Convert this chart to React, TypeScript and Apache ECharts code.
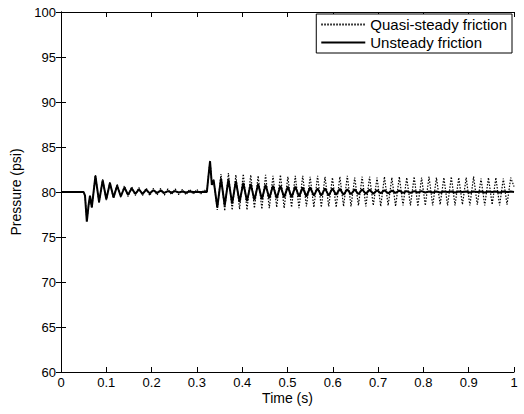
import React, { useEffect, useRef } from "react";
import * as echarts from "echarts";

// Time samples (s) shared by both series
const timeS: number[] = [
  0, 0.05, 0.053, 0.057, 0.061, 0.064, 0.068, 0.076, 0.084, 0.092, 0.1, 0.108, 0.116, 0.124,
  0.132, 0.14, 0.148, 0.156, 0.164, 0.172, 0.18, 0.188, 0.196, 0.204, 0.212, 0.22, 0.228,
  0.236, 0.244, 0.252, 0.26, 0.268, 0.276, 0.284, 0.292, 0.3, 0.308, 0.316, 0.322, 0.326,
  0.329, 0.333, 0.337,
  0.345, 0.3532, 0.3614, 0.3696, 0.3778, 0.386, 0.3942, 0.4024, 0.4106, 0.4188,
  0.427, 0.4352, 0.4434, 0.4516, 0.4598, 0.468, 0.4762, 0.4844, 0.4926, 0.5008,
  0.509, 0.5172, 0.5254, 0.5336, 0.5418, 0.55, 0.5582, 0.5664, 0.5746, 0.5828,
  0.591, 0.5992, 0.6074, 0.6156, 0.6238, 0.632, 0.6402, 0.6484, 0.6566, 0.6648,
  0.673, 0.6812, 0.6894, 0.6976, 0.7058, 0.714, 0.7222, 0.7304, 0.7386, 0.7468,
  0.755, 0.7632, 0.7714, 0.7796, 0.7878, 0.796, 0.8042, 0.8124, 0.8206, 0.8288,
  0.837, 0.8452, 0.8534, 0.8616, 0.8698, 0.878, 0.8862, 0.8944, 0.9026, 0.9108,
  0.919, 0.9272, 0.9354, 0.9436, 0.9518, 0.96, 0.9682, 0.9764, 0.9846, 0.9928, 1.0,
];

// Quasi-steady friction (psi)
const quasiP: number[] = [
  80, 80, 79.6, 76.9, 78.5, 79.5, 78.2, 81.9, 78.8, 81.4, 79.1, 81.1, 79.3, 80.9,
  79.4, 80.7, 79.5, 80.6, 79.6, 80.5, 79.6, 80.45, 79.6, 80.4, 79.65, 80.4, 79.65,
  80.35, 79.7, 80.35, 79.7, 80.3, 79.7, 80.3, 79.75, 80.3, 79.75, 80.25, 80, 82.1,
  83.5, 80.9, 81.4,
  78.0, 82.0, 77.9, 82.1, 78.0, 81.9, 78.1, 82.0, 78.0, 81.9,
  78.2, 81.8, 78.1, 81.9, 78.2, 81.8, 78.3, 81.9, 78.2, 81.7,
  78.3, 81.8, 78.2, 81.8, 78.4, 81.7, 78.3, 81.8, 78.3, 81.7,
  78.4, 81.6, 78.3, 81.7, 78.4, 81.8, 78.4, 81.6, 78.5, 81.7,
  78.4, 81.7, 78.5, 81.6, 78.4, 81.7, 78.5, 81.6, 78.4, 81.7,
  78.5, 81.6, 78.5, 81.7, 78.4, 81.6, 78.5, 81.7, 78.5, 81.6,
  78.6, 81.6, 78.5, 81.7, 78.5, 81.6, 78.6, 81.6, 78.5, 81.7,
  78.6, 81.5, 78.5, 81.6, 78.6, 81.6, 78.5, 81.5, 78.6, 81.6, 80.6,
];

// Unsteady friction (psi)
const unsteadyP: number[] = [
  80, 80, 79.6, 76.7, 78.6, 79.6, 78.3, 81.8, 78.9, 81.3, 79.2, 81.0, 79.4, 80.7,
  79.5, 80.5, 79.7, 80.4, 79.8, 80.3, 79.8, 80.25, 79.85, 80.2, 79.9, 80.15, 79.9,
  80.1, 79.95, 80.1, 79.95, 80.05, 79.95, 80.05, 80, 80, 80, 80, 80, 82.0, 83.4,
  80.8, 81.3,
  78.3, 81.5, 78.5, 81.4, 78.7, 81.2, 78.9, 81.0, 79.0, 80.9,
  79.1, 80.9, 79.2, 80.8, 79.3, 80.7, 79.3, 80.7, 79.4, 80.6,
  79.4, 80.6, 79.5, 80.5, 79.5, 80.5, 79.6, 80.4, 79.6, 80.4,
  79.6, 80.4, 79.7, 80.35, 79.7, 80.3, 79.75, 80.3, 79.75, 80.3,
  79.8, 80.25, 79.8, 80.2, 79.85, 80.2, 79.85, 80.15, 79.9, 80.15,
  79.9, 80.1, 79.9, 80.1, 79.95, 80.1, 79.95, 80.05, 79.95, 80.05,
  79.95, 80.05, 80.0, 80.05, 79.95, 80.05, 80.0, 80.05, 79.95, 80.05,
  80.0, 80.05, 79.95, 80.05, 80.0, 80.05, 79.95, 80.05, 80.0, 80.05, 80.0,
];

const seriesNames = ["Quasi-steady friction", "Unsteady friction"];
const xTitle = "Time (s)";
const yTitle = "Pressure (psi)";

const FONT = "Liberation Sans, Arial, sans-serif";

export default function App() {
  const ref = useRef<HTMLDivElement>(null);
  useEffect(() => {
    if (!ref.current) return;
    const chart = echarts.init(ref.current, null, { renderer: "svg" });
    const pairs = (vals: number[]) => timeS.map((t, i) => [t, vals[i]]);
    const tickStyle = { show: true, inside: true, length: 5, lineStyle: { color: "#000", width: 1 } };
    const lineStyle = { show: true, lineStyle: { color: "#000", width: 1 } };
    const label = { color: "#000", fontFamily: FONT, fontSize: 13 };
    chart.setOption({
      animation: false,
      backgroundColor: "#fff",
      grid: { left: 61, right: 10, top: 12, bottom: 42, containLabel: false },
      legend: {
        right: 12,
        top: 14,
        orient: "vertical",
        data: seriesNames,
        backgroundColor: "#fff",
        borderColor: "#000",
        borderWidth: 1,
        borderRadius: 0,
        padding: [3, 5, 3, 4],
        itemGap: 3,
        itemWidth: 44,
        itemHeight: 14,
        itemStyle: { opacity: 0 },
        textStyle: { color: "#000", fontFamily: FONT, fontSize: 15 },
      },
      xAxis: [
        {
          type: "value", position: "bottom", min: 0, max: 1, interval: 0.1,
          name: xTitle, nameLocation: "middle", nameGap: 19, nameMoveOverlap: false,
          nameTextStyle: { color: "#000", fontFamily: FONT, fontSize: 14 },
          axisLine: lineStyle, axisTick: tickStyle, splitLine: { show: false },
          axisLabel: { ...label, margin: 4 },
        },
        {
          type: "value", position: "top", min: 0, max: 1, interval: 0.1,
          axisLine: lineStyle, axisTick: tickStyle, splitLine: { show: false },
          axisLabel: { show: false },
        },
      ],
      yAxis: [
        {
          type: "value", position: "left", min: 60, max: 100, interval: 5,
          name: yTitle, nameLocation: "middle", nameGap: 35, nameRotate: 90,
          nameTextStyle: { color: "#000", fontFamily: FONT, fontSize: 14 },
          axisLine: lineStyle, axisTick: tickStyle, splitLine: { show: false },
          axisLabel: { ...label, margin: 5 },
        },
        {
          type: "value", position: "right", min: 60, max: 100, interval: 5,
          axisLine: lineStyle, axisTick: tickStyle, splitLine: { show: false },
          axisLabel: { show: false },
        },
      ],
      series: [
        {
          name: seriesNames[0], type: "line", symbol: "none", xAxisIndex: 0, yAxisIndex: 0,
          data: pairs(quasiP),
          lineStyle: { color: "#000", width: 1.2, type: [1.5, 1.5] },
          itemStyle: { color: "#000" },
          z: 2,
        },
        {
          name: seriesNames[1], type: "line", symbol: "none", xAxisIndex: 0, yAxisIndex: 0,
          data: pairs(unsteadyP),
          lineStyle: { color: "#000", width: 2, type: "solid" },
          itemStyle: { color: "#000" },
          z: 3,
        },
      ],
    });
    return () => chart.dispose();
  }, []);
  return (
    <div
      ref={ref}
      style={{ position: "fixed", left: 0, top: 0, width: 524, height: 414, background: "#fff" }}
    />
  );
}
